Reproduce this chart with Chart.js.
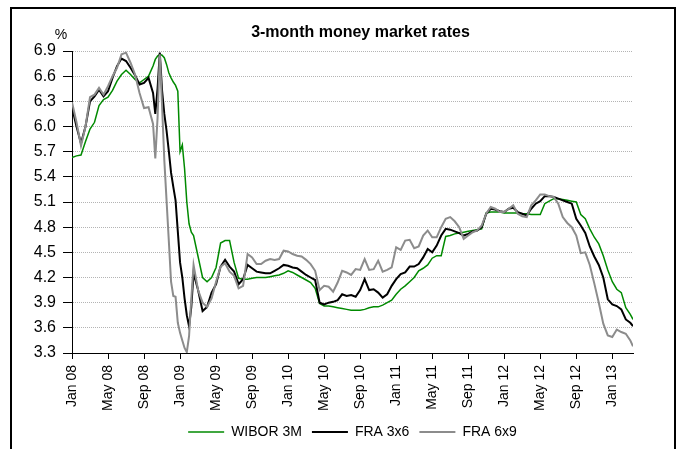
<!DOCTYPE html>
<html>
<head>
<meta charset="utf-8">
<script src="https://cdn.jsdelivr.net/npm/chart.js@4"></script>
<style>
  body { margin: 0; background: #fff; }
  #wrap { position: relative; width: 681px; height: 449px; overflow: hidden; }
  #frame { position: absolute; left: 10px; top: 7px; width: 662px; height: 470px; border: 2px solid #000; }
  canvas { position: absolute; left: 0; top: 0; }
</style>
</head>
<body>
<div id="wrap">
  <div id="frame"></div>
  <canvas id="myChart" width="681" height="449"></canvas>
</div>
<script>
const chartTitle = "3-month money market rates";
const unitLabel = "%";

// months since Jan 2008 (half-month steps, quarter steps around the late-2008 crash)
const months = [
  0, 0.5, 1, 1.5, 2, 2.5, 3, 3.5, 4, 4.5, 5, 5.5, 6, 6.5, 7, 7.5, 8, 8.5,
  9, 9.25, 9.5, 9.75, 10, 10.25, 10.5, 10.75, 11, 11.25, 11.5, 11.75, 12, 12.25, 12.5, 12.75, 13, 13.25, 13.5,
  14, 14.5, 15, 15.5, 16, 16.5, 17, 17.5, 18, 18.5, 19, 19.5, 20, 20.5, 21, 21.5, 22, 22.5, 23, 23.5,
  24, 24.5, 25, 25.5, 26, 26.5, 27, 27.5, 28, 28.5, 29, 29.5, 30, 30.5, 31, 31.5, 32, 32.5, 33, 33.5, 34, 34.5, 35, 35.5,
  36, 36.5, 37, 37.5, 38, 38.5, 39, 39.5, 40, 40.5, 41, 41.5, 42, 42.5, 43, 43.5, 44, 44.5, 45, 45.5, 46, 46.5, 47, 47.5,
  48, 48.5, 49, 49.5, 50, 50.5, 51, 51.5, 52, 52.5, 53, 53.5, 54, 54.5, 55, 55.5, 56, 56.5, 57, 57.5, 58, 58.5, 59, 59.5,
  60, 60.5, 61, 61.5, 62, 62.3
];

const wibor3m = [
  5.63, 5.65, 5.66, 5.82, 5.97, 6.05, 6.25, 6.32, 6.35, 6.43, 6.54, 6.62, 6.67, 6.62, 6.56, 6.52, 6.56, 6.60,
  6.72, 6.80, 6.84, 6.86, 6.85, 6.82, 6.74, 6.64, 6.58, 6.53, 6.49, 6.42, 5.70, 5.78, 5.50, 5.10, 4.84, 4.74, 4.70,
  4.45, 4.20, 4.15, 4.20, 4.32, 4.61, 4.64, 4.64, 4.38, 4.19, 4.18, 4.18, 4.19, 4.20, 4.20, 4.20, 4.21, 4.22, 4.23, 4.25,
  4.28, 4.26, 4.23, 4.20, 4.17, 4.14, 4.07, 3.89, 3.86, 3.86, 3.85, 3.84, 3.83, 3.82, 3.81, 3.81, 3.81, 3.82, 3.84, 3.85, 3.85, 3.87, 3.90, 3.93,
  4.00, 4.06, 4.10, 4.15, 4.20, 4.28, 4.31, 4.35, 4.43, 4.46, 4.46, 4.69, 4.70, 4.72, 4.73, 4.74, 4.75, 4.76, 4.77, 4.78, 4.97, 4.98, 4.98, 4.98,
  4.97, 4.97, 4.97, 4.97, 4.96, 4.96, 4.95, 4.95, 4.95, 5.08, 5.11, 5.14, 5.14, 5.13, 5.12, 5.11, 5.10, 4.95, 4.90, 4.78, 4.68, 4.60, 4.46, 4.29,
  4.15, 4.06, 4.02, 3.84, 3.76, 3.70
];

const fra3x6 = [
  6.23, 6.00, 5.80, 6.00, 6.30, 6.36, 6.44, 6.36, 6.42, 6.58, 6.72, 6.81, 6.78, 6.70, 6.61, 6.50, 6.52, 6.58,
  6.40, 6.15, 6.45, 6.88, 6.43, 6.15, 5.95, 5.71, 5.45, 5.28, 5.12, 4.75, 4.38, 4.20, 3.95, 3.75, 3.62, 3.85, 4.25,
  4.05, 3.80, 3.85, 4.02, 4.12, 4.33, 4.41, 4.33, 4.27, 4.12, 4.18, 4.35, 4.31, 4.27, 4.26, 4.25, 4.25, 4.28, 4.31, 4.35,
  4.34, 4.32, 4.31, 4.27, 4.23, 4.20, 4.17, 3.90, 3.88, 3.90, 3.91, 3.93, 4.00, 3.98, 3.99, 3.97, 4.05, 4.18, 4.05, 4.06, 4.02, 3.96, 4.00, 4.10,
  4.18, 4.24, 4.26, 4.33, 4.33, 4.36, 4.44, 4.54, 4.50, 4.58, 4.70, 4.78, 4.77, 4.75, 4.73, 4.70, 4.72, 4.75, 4.76, 4.80, 4.96, 5.02, 5.01, 4.99,
  4.98, 5.02, 5.03, 4.98, 4.96, 4.94, 5.02, 5.08, 5.11, 5.17, 5.17, 5.16, 5.14, 5.12, 5.10, 5.08, 4.90, 4.82, 4.73, 4.57, 4.45, 4.35, 4.20, 3.94,
  3.88, 3.86, 3.82, 3.70, 3.66, 3.62
];

const fra6x9 = [
  6.29, 6.05, 5.77, 6.00, 6.35, 6.38, 6.46, 6.38, 6.48, 6.60, 6.70, 6.86, 6.88, 6.76, 6.62, 6.40, 6.22, 6.23,
  6.03, 5.62, 6.10, 6.86, 6.25, 5.60, 5.12, 4.64, 4.15, 3.98, 3.97, 3.66, 3.54, 3.45, 3.36, 3.31, 3.50, 3.95, 4.35,
  4.05, 3.90, 3.85, 3.95, 4.15, 4.33, 4.37, 4.27, 4.22, 4.07, 4.10, 4.48, 4.44, 4.36, 4.36, 4.40, 4.42, 4.41, 4.42, 4.52,
  4.51, 4.48, 4.46, 4.45, 4.41, 4.36, 4.28, 4.05, 4.10, 4.09, 4.03, 4.14, 4.28, 4.26, 4.23, 4.30, 4.29, 4.42, 4.29, 4.30, 4.40, 4.27, 4.29, 4.32,
  4.56, 4.53, 4.64, 4.65, 4.55, 4.57, 4.70, 4.76, 4.68, 4.68, 4.80, 4.90, 4.92, 4.87, 4.80, 4.66, 4.70, 4.74, 4.76, 4.82, 4.96, 5.04, 5.02, 4.98,
  4.98, 5.02, 5.06, 4.96, 4.93, 4.92, 5.06, 5.12, 5.19, 5.19, 5.17, 5.16, 5.08, 4.92, 4.85, 4.80, 4.70, 4.49, 4.50, 4.35, 4.13, 3.90, 3.65, 3.51,
  3.49, 3.58, 3.55, 3.53, 3.45, 3.38
];

const xTickMonths = [0, 4, 8, 12, 16, 20, 24, 28, 32, 36, 40, 44, 48, 52, 56, 60];
const xTickLabels = ["Jan 08", "May 08", "Sep 08", "Jan 09", "May 09", "Sep 09", "Jan 10", "May 10",
                     "Sep 10", "Jan 11", "May 11", "Sep 11", "Jan 12", "May 12", "Sep 12", "Jan 13"];
const yTicks = [3.3, 3.6, 3.9, 4.2, 4.5, 4.8, 5.1, 5.4, 5.7, 6.0, 6.3, 6.6, 6.9];

const fontFamily = '"Liberation Sans", Arial, sans-serif';

function points(vals) {
  return months.map((m, i) => ({ x: m, y: vals[i] }));
}

const headingPlugin = {
  id: 'heading',
  afterDraw(chart) {
    const ctx = chart.ctx;
    const area = chart.chartArea;
    ctx.save();
    ctx.fillStyle = '#000';
    ctx.textAlign = 'center';
    ctx.textBaseline = 'middle';
    ctx.font = 'bold 16px ' + fontFamily;
    ctx.fillText(chartTitle, (area.left + area.right) / 2 + 8, area.top - 18);
    ctx.font = '14px ' + fontFamily;
    ctx.fillText(unitLabel, area.left - 11, area.top - 16);
    ctx.restore();
  }
};

var ctx = document.getElementById('myChart').getContext('2d');
var myChart = new Chart(ctx, {
  type: 'line',
  data: {
    datasets: [
      { label: 'WIBOR 3M', data: points(wibor3m), borderColor: '#008a00', borderWidth: 1.5, order: 3 },
      { label: 'FRA 3x6', data: points(fra3x6), borderColor: '#000000', borderWidth: 2, order: 2 },
      { label: 'FRA 6x9', data: points(fra6x9), borderColor: '#8c8c8c', borderWidth: 2, order: 1 }
    ]
  },
  options: {
    responsive: false,
    animation: false,
    elements: {
      point: { radius: 0 },
      line: { tension: 0, fill: false }
    },
    layout: { padding: { left: 10, right: 48, top: 51, bottom: 0 } },
    plugins: {
      title: { display: false },
      tooltip: { enabled: false },
      legend: {
        position: 'bottom',
        fullSize: false,
        labels: {
          usePointStyle: true,
          pointStyle: 'line',
          pointStyleWidth: 36,
          padding: 10,
          color: '#000',
          font: { size: 14, family: fontFamily },
          sort: (a, b) => a.datasetIndex - b.datasetIndex
        }
      }
    },
    scales: {
      x: {
        type: 'linear',
        min: 0,
        max: 62.3,
        afterBuildTicks: axis => { axis.ticks = xTickMonths.map(v => ({ value: v })); },
        afterFit: axis => { axis.height = 62; },
        ticks: {
          autoSkip: false,
          minRotation: 90,
          maxRotation: 90,
          padding: 6,
          color: '#000',
          font: { size: 14, family: fontFamily },
          callback: (v, i) => xTickLabels[i]
        },
        grid: { drawOnChartArea: false, tickLength: 6, tickColor: '#000', color: '#000' },
        border: { color: '#000', width: 1 }
      },
      y: {
        min: 3.3,
        max: 6.9,
        afterBuildTicks: axis => { axis.ticks = yTicks.map(v => ({ value: v })); },
        afterFit: axis => { axis.width = 62; },
        ticks: {
          padding: 7,
          color: '#000',
          font: { size: 16, family: fontFamily },
          callback: (v, i) => yTicks[i].toFixed(1)
        },
        grid: { color: '#b4b4b4', tickColor: '#000', tickLength: 9, lineWidth: 1 },
        border: { color: '#000', width: 1, dash: [1, 1] }
      }
    }
  },
  plugins: [headingPlugin]
});
</script>
</body>
</html>
